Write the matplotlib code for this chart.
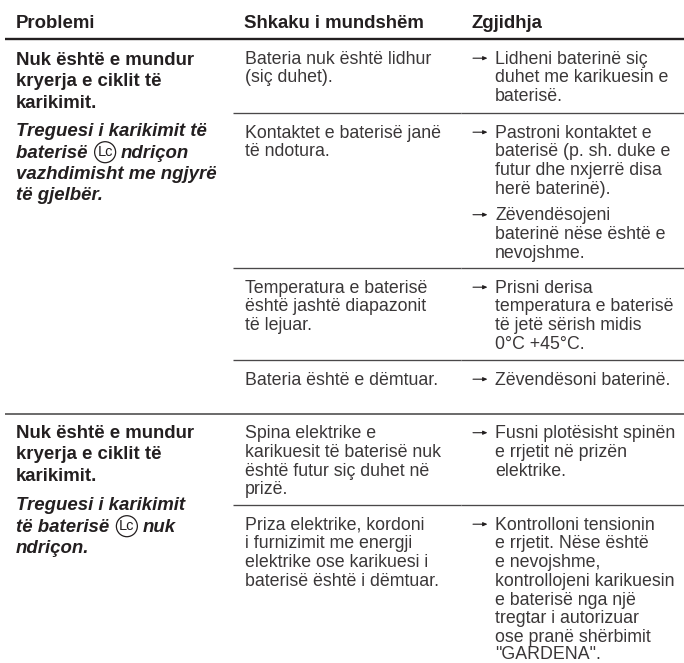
import matplotlib
matplotlib.use("Agg")
import matplotlib.pyplot as plt
from matplotlib.patches import Circle

plt.rcParams['font.family'] = ['Liberation Sans', 'DejaVu Sans']

headers = ["Problemi", "Shkaku i mundshëm", "Zgjidhja"]

problem_title = ["Nuk është e mundur", "kryerja e ciklit të", "karikimit."]
problem_a = [["Treguesi i karikimit të"], ["baterisë ", "ndriçon"],
             ["vazhdimisht me ngjyrë"], ["të gjelbër."]]
problem_b = [["Treguesi i karikimit"], ["të baterisë ", "nuk"], ["ndriçon."]]

causes = [
    ["Bateria nuk është lidhur", "(siç duhet)."],
    ["Kontaktet e baterisë janë", "të ndotura."],
    ["Temperatura e baterisë", "është jashtë diapazonit", "të lejuar."],
    ["Bateria është e dëmtuar."],
    ["Spina elektrike e", "karikuesit të baterisë nuk", "është futur siç duhet në", "prizë."],
    ["Priza elektrike, kordoni", "i furnizimit me energji", "elektrike ose karikuesi i", "baterisë është i dëmtuar."],
]
solutions = [
    [["Lidheni baterinë siç", "duhet me karikuesin e", "baterisë."]],
    [["Pastroni kontaktet e", "baterisë (p. sh. duke e", "futur dhe nxjerrë disa", "herë baterinë)."],
     ["Zëvendësojeni", "baterinë nëse është e", "nevojshme."]],
    [["Prisni derisa", "temperatura e baterisë", "të jetë sërish midis", "0°C +45°C."]],
    [["Zëvendësoni baterinë."]],
    [["Fusni plotësisht spinën", "e rrjetit në prizën", "elektrike."]],
    [["Kontrolloni tensionin", "e rrjetit. Nëse është", "e nevojshme,", "kontrollojeni karikuesin",
      "e baterisë nga një", "tregtar i autorizuar", "ose pranë shërbimit", "\"GARDENA\"."]],
]
symbol_label = "Lc"

# layout (pixels)
W, H = 684, 663
seps = [39, 113, 268, 360, 413.5, 505]
full_seps = [39, 413.5]
X_LINE0, X_COL2, X_COL3 = 5, 233, 461
X_P, X_C, X_A, X_S = 16, 245, 473, 495
INK = "#231f20"
LIGHT = "#3a3738"
FS_B, FS_R = 13.4, 12.8
LH_R, LH_B = 18.75, 21.2
Y_MAX = 658.8

fig = plt.figure(figsize=(W / 100, H / 100), dpi=100)
ax = fig.add_axes([0, 0, 1, 1])
ax.set_xlim(0, W)
ax.set_ylim(H, 0)
ax.axis("off")

# rules
for i, y in enumerate(seps):
    lw = 1.7 if i == 0 else (1.15 if y in full_seps else 0.95)
    col = "#231f20" if i == 0 else "#4a4849"
    if y in full_seps:
        ax.plot([X_LINE0, X_COL2 - 0.3], [y, y], color=col, lw=lw, solid_capstyle="butt")
    ax.plot([X_COL2 + 0.3, X_COL3 - 0.3], [y, y], color=col, lw=lw, solid_capstyle="butt")
    ax.plot([X_COL3 + 0.3, W], [y, y], color=col, lw=lw, solid_capstyle="butt")

# header
for x, h in zip([X_P, X_C - 1, X_A - 1], headers):
    ax.text(x, 28, h, fontsize=FS_B, fontweight="bold", color=INK, va="baseline")

def txt(x, y, s, size=FS_R, **k):
    return ax.text(x, y, s, fontsize=size, va="baseline", color=k.pop("color", LIGHT), **k)

def problem(y_title, y_sub, lines):
    for i, s in enumerate(problem_title):
        txt(X_P, y_title + i * 21.3, s, size=FS_B, fontweight="bold", color=INK)
    for i, segs in enumerate(lines):
        y = y_sub + i * LH_B
        t = txt(X_P, y, segs[0], size=FS_B, fontweight="bold", fontstyle="italic", color=INK)
        if len(segs) > 1:
            fig.canvas.draw()
            ext = t.get_window_extent()
            cx = ext.x1 + 12.5
            ax.add_patch(Circle((cx, y - 5.5), 10.5, fill=False, ec=INK, lw=0.9))
            ax.text(cx, y - 5.5, symbol_label, fontsize=10.5, color=INK, ha="center", va="center")
            txt(cx + 16, y, segs[1], size=FS_B, fontweight="bold", fontstyle="italic", color=INK)

problem(65, 136.5, problem_a)
problem(438, 510.5, problem_b)

for sep, cause, sol in zip(seps, causes, solutions):
    y0 = sep + 24.7
    for i, s in enumerate(cause):
        txt(X_C, y0 + i * LH_R, s)
    y = y0
    for block in sol:
        ax.annotate("", xy=(X_A + 14.5, y - 5.5), xytext=(X_A, y - 5.5),
                    arrowprops=dict(arrowstyle="-|>,head_length=0.25,head_width=0.11",
                                    color=INK, lw=0.8, shrinkA=0, shrinkB=0))
        for i, s in enumerate(block):
            txt(X_S, min(y + i * LH_R, Y_MAX), s)
        y += len(block) * LH_R + 7.5

fig.savefig("out.png", dpi=100)
